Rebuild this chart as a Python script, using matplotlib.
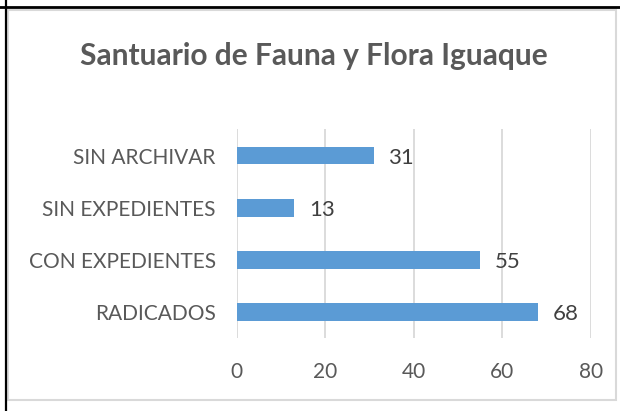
import matplotlib
matplotlib.use('Agg')
import matplotlib.pyplot as plt
from matplotlib.lines import Line2D
from matplotlib.patches import Rectangle

# Chart data (bottom to top as drawn)
categories = ['RADICADOS', 'CON EXPEDIENTES', 'SIN EXPEDIENTES', 'SIN ARCHIVAR']
values = [68, 55, 13, 31]
xticks = [0, 20, 40, 60, 80]

plt.rcParams['font.family'] = ['Lato', 'DejaVu Sans']

fig = plt.figure(figsize=(6.2, 4.11), dpi=100)
W, H = 620, 411

# Outer table-cell borders (black) and chart frame (light gray)
fig.add_artist(Line2D([0, 1], [1 - 7 / H, 1 - 7 / H], color='black', lw=2.0,
                      transform=fig.transFigure))
fig.add_artist(Line2D([5.5 / W, 5.5 / W], [0, 1], color='black', lw=1.6,
                      transform=fig.transFigure))
fig.add_artist(Rectangle((8 / W, 1 - 400 / H), (616 - 8) / W, (400 - 10) / H,
                         fill=False, edgecolor='#d9d9d9', lw=1.5,
                         transform=fig.transFigure))

ax = fig.add_axes([236.5 / W, 1 - 338 / H, (591 - 236.5) / W, (338 - 129.5) / H])
ypos = list(range(len(categories)))
ax.barh(ypos, values, height=0.34, color='#5b9bd5', zorder=3)

for y, v in zip(ypos, values):
    ax.text(v + 3.3, y - 0.04, str(v), va='center', ha='left',
            fontsize=16, color='#404040')

ax.set_xlim(0, 80)
ax.set_ylim(-0.5, len(categories) - 0.5)
ax.set_xticks(xticks)
ax.set_yticks(ypos)
ax.set_yticklabels(categories)
ax.tick_params(axis='both', length=0, labelsize=15, labelcolor='#595959')
ax.tick_params(axis='x', pad=17)
ax.tick_params(axis='y', pad=15)
ax.grid(axis='x', color='#d9d9d9', lw=1.3, zorder=0)
for s in ax.spines.values():
    s.set_visible(False)

fig.text(314 / W, 1 - 56 / H, 'Santuario de Fauna y Flora Iguaque', ha='center',
         va='center', fontsize=21.5, fontweight='bold', color='#595959')

fig.savefig('out.png', dpi=100)
